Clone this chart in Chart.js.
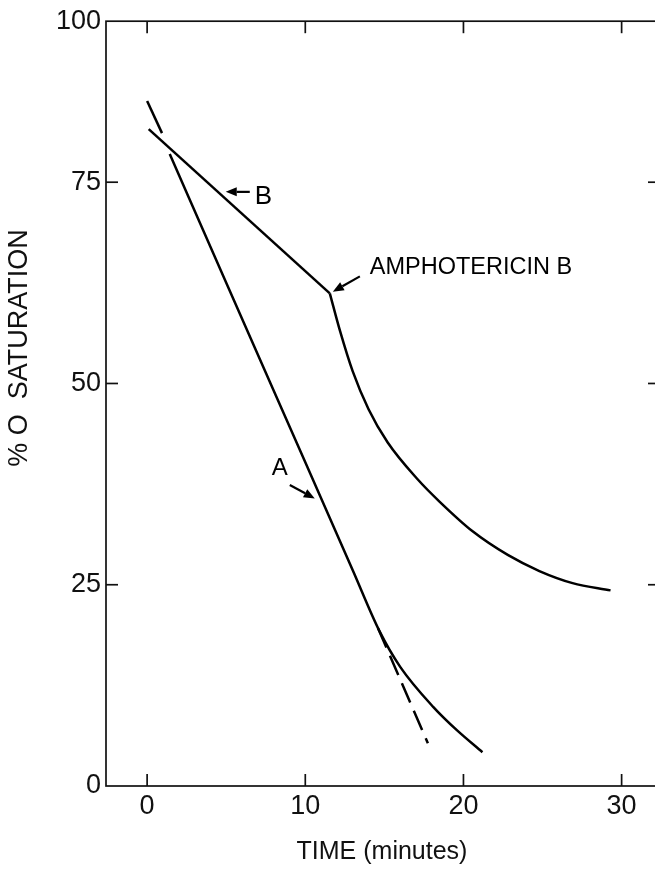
<!DOCTYPE html>
<html>
<head>
<meta charset="utf-8">
<script src="https://cdn.jsdelivr.net/npm/chart.js@4/dist/chart.umd.min.js"></script>
<style>
  html, body { margin: 0; padding: 0; background: #fff; overflow: hidden; }
  #wrap { width: 662px; height: 870px; }
</style>
</head>
<body>
<div id="wrap"><canvas id="c" width="662" height="870"></canvas></div>
<script>
// ---- data ----
const xTickValues = [0, 10, 20, 30];
const xTickLabels = ['0', '10', '20', '30'];
const yTickValues = [0, 25, 50, 75, 95];
const yTickLabels = ['0', '25', '50', '75', '100'];

// Curve A (control)
const timeA = [1.43, 5, 10, 13, 14.7, 16.0, 18.1, 19.6, 21.2];
const satA  = [78.5, 62.5, 40.2, 26.8, 19.2, 14.8, 9.8, 6.9, 4.2];

// Dashed extrapolation of A
const timeDashTop = [0, 0.94];
const satDashTop  = [85.1, 81.1];
const timeDashLow = [14.6, 17.75];
const satDashLow  = [19.6, 5.3];

// Curve B before amphotericin B
const timeB1 = [0.1, 11.55];
const satB1  = [81.6, 61.2];
// Curve B after amphotericin B
const timeB2 = [11.55, 12.2, 13, 14, 15.2, 17.1, 18.5, 20.6, 22.8, 24.8, 26.9, 29.3];
const satB2  = [61.2, 56.5, 51.5, 46.8, 42.7, 38.1, 35.3, 31.6, 28.7, 26.7, 25.2, 24.3];

const FONT = "'Liberation Sans', Arial, sans-serif";
const pts = (xs, ys) => xs.map((x, i) => ({ x: x, y: ys[i] }));

const frame = {
  id: 'frame',
  afterDraw(chart) {
    const { ctx, chartArea: a, scales: { x, y } } = chart;
    ctx.save();
    ctx.strokeStyle = '#111';
    ctx.lineWidth = 1.7;
    ctx.strokeRect(a.left, a.top, a.right - a.left, a.bottom - a.top);
    const seg = (x1, y1, x2, y2) => { ctx.beginPath(); ctx.moveTo(x1, y1); ctx.lineTo(x2, y2); ctx.stroke(); };
    xTickValues.forEach(v => {
      const px = x.getPixelForValue(v);
      seg(px, a.bottom, px, a.bottom - 12);
      seg(px, a.top, px, a.top + 12);
    });
    yTickValues.forEach((v, i) => {
      if (i === 0 || i === yTickValues.length - 1) return;
      const py = y.getPixelForValue(v);
      seg(a.left, py, a.left + 12, py);
      seg(a.right, py, a.right - 10, py);
    });
    // y axis title
    ctx.fillStyle = '#111';
    ctx.font = '27px ' + FONT;
    ctx.textAlign = 'center';
    ctx.textBaseline = 'middle';
    ctx.translate(20, y.getPixelForValue(54.4));
    ctx.rotate(-Math.PI / 2);
    ctx.fillText('% O  SATURATION', 0, 0);
    ctx.restore();
  },
  afterDatasetsDraw(chart) {
    const { ctx, scales: { x, y } } = chart;
    const X = v => x.getPixelForValue(v), Y = v => y.getPixelForValue(v);
    ctx.save();
    ctx.strokeStyle = '#000';
    ctx.fillStyle = '#000';
    ctx.lineWidth = 2.2;
    const arrow = (tx, ty, hx, hy) => {
      const x1 = X(tx), y1 = Y(ty), x2 = X(hx), y2 = Y(hy);
      const ang = Math.atan2(y2 - y1, x2 - x1);
      const L = 11, W = 4.5;
      const bx = x2 - L * Math.cos(ang), by = y2 - L * Math.sin(ang);
      ctx.beginPath(); ctx.moveTo(x1, y1); ctx.lineTo(bx, by); ctx.stroke();
      ctx.beginPath();
      ctx.moveTo(x2, y2);
      ctx.lineTo(bx + W * Math.sin(ang), by - W * Math.cos(ang));
      ctx.lineTo(bx - W * Math.sin(ang), by + W * Math.cos(ang));
      ctx.closePath(); ctx.fill();
    };
    // B label
    arrow(6.49, 73.8, 4.97, 73.8);
    ctx.textBaseline = 'middle';
    ctx.textAlign = 'left';
    ctx.font = '26px ' + FONT;
    ctx.fillText('B', X(6.8), Y(73.2));
    // A label
    arrow(9.02, 37.4, 10.6, 35.7);
    ctx.textAlign = 'center';
    ctx.font = '24px ' + FONT;
    ctx.fillText('A', X(8.39), Y(39.4));
    // Amphotericin B
    arrow(13.45, 63.3, 11.74, 61.4);
    ctx.textAlign = 'left';
    ctx.font = '23.5px ' + FONT;
    ctx.fillText('AMPHOTERICIN B', X(14.08), Y(64.4));
    ctx.restore();
  }
};

const lineBase = { borderColor: '#000', borderWidth: 2.5, pointRadius: 0, fill: false };

new Chart(document.getElementById('c'), {
  type: 'line',
  data: {
    datasets: [
      Object.assign({ label: 'A', data: pts(timeA, satA), cubicInterpolationMode: 'monotone' }, lineBase),
      Object.assign({ label: 'A extrapolated (upper)', data: pts(timeDashTop, satDashTop), tension: 0 }, lineBase),
      Object.assign({ label: 'A extrapolated (lower)', data: pts(timeDashLow, satDashLow), tension: 0, borderDash: [21, 9] }, lineBase),
      Object.assign({ label: 'B', data: pts(timeB1, satB1), tension: 0 }, lineBase),
      Object.assign({ label: 'B after amphotericin B', data: pts(timeB2, satB2), cubicInterpolationMode: 'monotone' }, lineBase)
    ]
  },
  options: {
    responsive: false,
    animation: false,
    devicePixelRatio: 1,
    layout: { padding: { top: 16, right: 4, left: 0, bottom: 0 } },
    plugins: { legend: { display: false }, tooltip: { enabled: false } },
    scales: {
      x: {
        type: 'linear',
        min: -2.6,
        max: 32.3,
        afterBuildTicks: s => { s.ticks = xTickValues.map(v => ({ value: v })); },
        afterFit: s => { s.height = 84; },
        grid: { display: false, drawTicks: false },
        border: { display: false },
        ticks: {
          padding: 4,
          color: '#111',
          font: { size: 27, family: FONT },
          callback: (v, i) => xTickLabels[i]
        },
        title: {
          display: true,
          text: 'TIME (minutes)',
          color: '#111',
          font: { size: 25, family: FONT },
          padding: { top: 0, bottom: 3 }
        }
      },
      y: {
        type: 'linear',
        min: 0,
        max: 95,
        afterBuildTicks: s => { s.ticks = yTickValues.map(v => ({ value: v })); },
        afterFit: s => { s.width = 106; },
        grid: { display: false, drawTicks: false },
        border: { display: false },
        ticks: {
          padding: 5,
          color: '#111',
          font: { size: 27, family: FONT },
          callback: (v, i) => yTickLabels[i]
        },
        title: { display: false }
      }
    }
  },
  plugins: [frame]
});
</script>
</body>
</html>
